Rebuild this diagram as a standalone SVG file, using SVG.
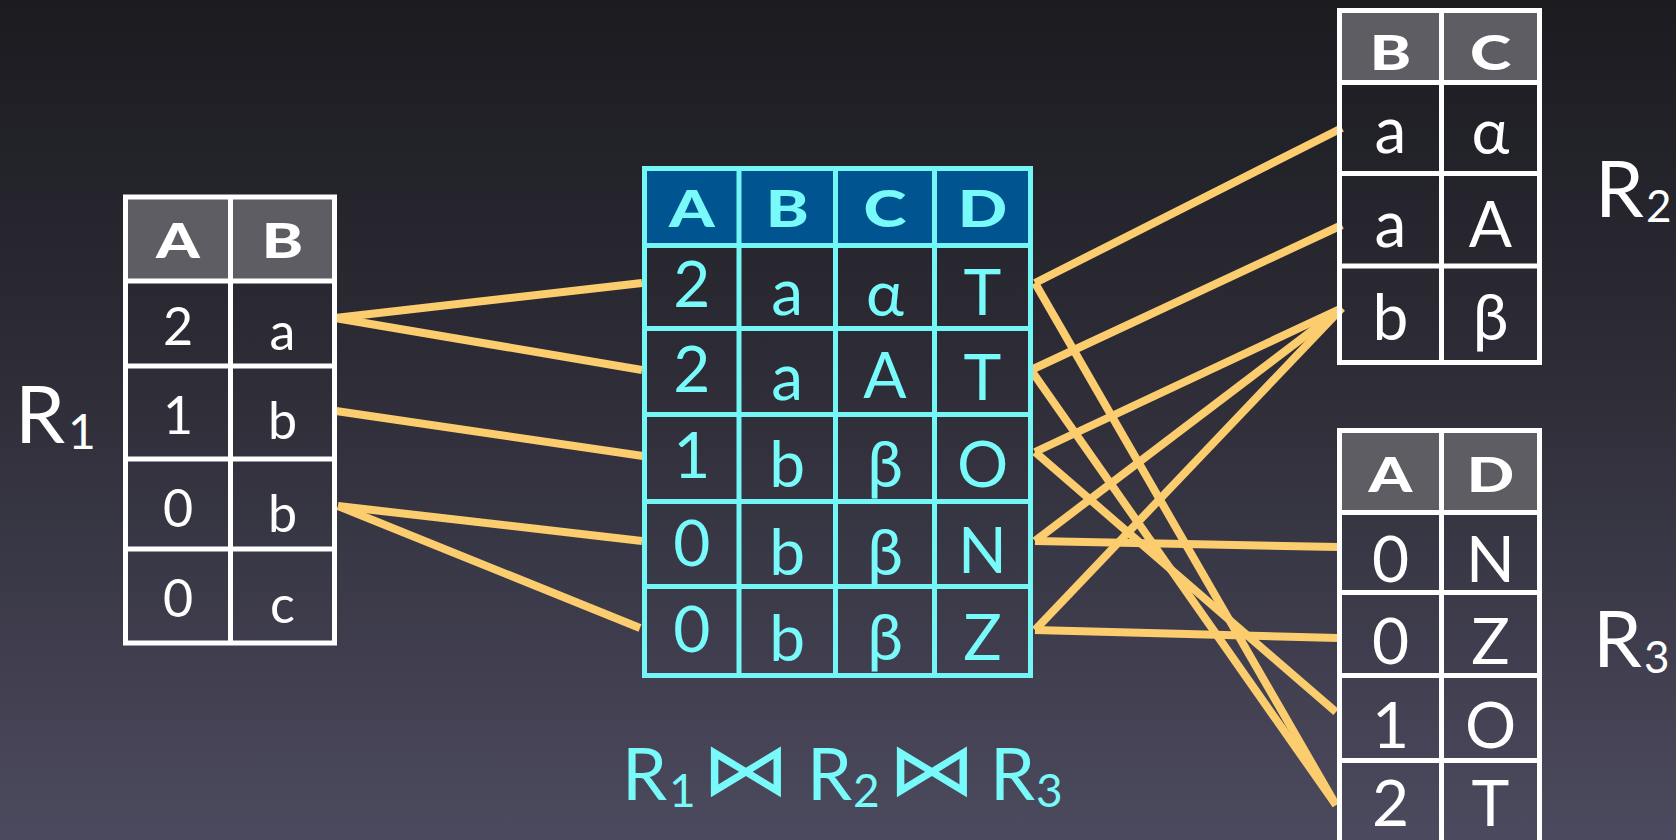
<svg xmlns="http://www.w3.org/2000/svg" width="1676" height="840" viewBox="0 0 1676 840">
<defs>
<linearGradient id="bg" x1="0" y1="0" x2="0" y2="1">
<stop offset="0" stop-color="#1b1b20"/>
<stop offset="0.5" stop-color="#302f3a"/>
<stop offset="1" stop-color="#4c4a5e"/>
</linearGradient>
<style>
.t{font-family:Lato,"Open Sans","Liberation Sans",sans-serif;text-anchor:middle}
.w{fill:#ffffff}
.c{fill:#78fafa}
.hd{font-weight:900}
.grid{fill:none;stroke:#ffffff;stroke-width:5}
.cgrid{fill:none;stroke:#74f6f6;stroke-width:5}
.hw{fill:#5e5d64}
.hb{fill:#00548f}
.lab{font-family:Lato,"Open Sans","Liberation Sans",sans-serif}
.link{stroke:#fccd6e;stroke-width:8;fill:none}
.bow{font-family:"DejaVu Sans",sans-serif;text-anchor:middle}
</style>
</defs>
<rect x="0" y="0" width="1676" height="840" fill="url(#bg)"/>

<g id="connectors">
<line class="link" x1="335" y1="318" x2="642" y2="283"/>
<line class="link" x1="335" y1="318" x2="642" y2="370"/>
<line class="link" x1="336" y1="411" x2="643" y2="456"/>
<line class="link" x1="338" y1="506" x2="642" y2="541"/>
<line class="link" x1="338" y1="506" x2="640" y2="628"/>
<line class="link" x1="1035" y1="283" x2="1342" y2="128"/>
<line class="link" x1="1035" y1="283" x2="1336" y2="805"/>
<line class="link" x1="1031" y1="370" x2="1342" y2="225"/>
<line class="link" x1="1031" y1="370" x2="1336" y2="805"/>
<line class="link" x1="1035" y1="452" x2="1342" y2="308"/>
<line class="link" x1="1035" y1="452" x2="1336" y2="712"/>
<line class="link" x1="1035" y1="541" x2="1342" y2="308"/>
<line class="link" x1="1035" y1="541" x2="1338" y2="547"/>
<line class="link" x1="1035" y1="630" x2="1342" y2="308"/>
<line class="link" x1="1035" y1="630" x2="1338" y2="638"/>
</g>

<g id="R1">
<rect class="hw" x="125.5" y="197" width="209" height="84"/>
<path class="grid" d="M125.5 197H334.5V643H125.5Z M230.5 197V643 M125.5 281H334.5 M125.5 366H334.5 M125.5 459H334.5 M125.5 549H334.5"/>
<text class="t w hd" font-size="48" transform="translate(178 258) scale(1.3 1)">A</text>
<text class="t w hd" font-size="48" transform="translate(282.5 258) scale(1.3 1)">B</text>
<g class="t w" font-size="52">
<text x="178" y="345">2</text><text x="282.5" y="350">a</text>
<text x="178" y="434">1</text><text x="282.5" y="439">b</text>
<text x="178" y="527">0</text><text x="282.5" y="532">b</text>
<text x="178" y="617">0</text><text x="282.5" y="623">c</text>
</g>
<text class="lab w" x="15" y="443" font-size="80">R</text>
<text class="lab w" x="68" y="449" font-size="48">1</text>
</g>

<g id="join">
<rect class="hb" x="644.5" y="168.5" width="386" height="77"/>
<path class="cgrid" d="M644.5 168.5H1030.5V675.5H644.5Z M739 168.5V675.5 M835.5 168.5V675.5 M934.5 168.5V675.5 M644.5 245.5H1030.5 M644.5 328.5H1030.5 M644.5 414.5H1030.5 M644.5 501.5H1030.5 M644.5 586.5H1030.5"/>
<g class="t c hd" font-size="52">
<text transform="translate(691.75 227) scale(1.25 1)">A</text>
<text transform="translate(787.25 227) scale(1.25 1)">B</text>
<text transform="translate(885 227) scale(1.25 1)">C</text>
<text transform="translate(982.5 227) scale(1.25 1)">D</text>
</g>
<g class="t c" font-size="64">
<text x="691.75" y="307">2</text><text x="787.25" y="315">a</text><text x="885" y="316">α</text><text x="982.5" y="315">T</text>
<text x="691.75" y="392">2</text><text x="787.25" y="400">a</text><text x="885" y="398">A</text><text x="982.5" y="400">T</text>
<text x="691.75" y="478">1</text><text x="787.25" y="487">b</text><text x="885" y="487">β</text><text x="982.5" y="487">O</text>
<text x="691.75" y="566">0</text><text x="787.25" y="575">b</text><text x="885" y="575">β</text><text x="982.5" y="573">N</text>
<text x="691.75" y="652">0</text><text x="787.25" y="661">b</text><text x="885" y="660">β</text><text x="982.5" y="660">Z</text>
</g>
<text class="lab c" font-size="72" x="622" y="800">R</text>
<text class="lab c" font-size="46" x="669" y="807">1</text>
<text class="bow c" font-size="74" transform="translate(746 795) scale(1.2 1)">⋈</text>
<text class="lab c" font-size="72" x="807" y="800">R</text>
<text class="lab c" font-size="46" x="853" y="807">2</text>
<text class="bow c" font-size="74" transform="translate(932 795) scale(1.2 1)">⋈</text>
<text class="lab c" font-size="72" x="990" y="800">R</text>
<text class="lab c" font-size="46" x="1036" y="807">3</text>
</g>

<g id="R2">
<rect class="hw" x="1339.5" y="10.5" width="200" height="72"/>
<path class="grid" d="M1339.5 10.5H1539.5V362.5H1339.5Z M1441.5 10.5V362.5 M1339.5 82.5H1539.5 M1339.5 173.5H1539.5 M1339.5 266H1539.5"/>
<text class="t w hd" font-size="48" transform="translate(1390.5 70) scale(1.3 1)">B</text>
<text class="t w hd" font-size="48" transform="translate(1490.5 70) scale(1.3 1)">C</text>
<g class="t w" font-size="64">
<text x="1390.5" y="153">a</text><text x="1490.5" y="154">α</text>
<text x="1390.5" y="247">a</text><text x="1490.5" y="247">A</text>
<text x="1390.5" y="340">b</text><text x="1490.5" y="340">β</text>
</g>
<text class="lab w" x="1595" y="217" font-size="78">R</text>
<text class="lab w" x="1646" y="222" font-size="44">2</text>
</g>

<g id="R3">
<rect class="hw" x="1339.5" y="430.5" width="200" height="82"/>
<path class="grid" d="M1339.5 430.5H1539.5V845H1339.5Z M1441.5 430.5V845 M1339.5 512.5H1539.5 M1339.5 592.5H1539.5 M1339.5 675.5H1539.5 M1339.5 760.5H1539.5"/>
<text class="t w hd" font-size="48" transform="translate(1390.5 492) scale(1.3 1)">A</text>
<text class="t w hd" font-size="48" transform="translate(1490.5 492) scale(1.3 1)">D</text>
<g class="t w" font-size="64">
<text x="1390.5" y="582">0</text><text x="1490.5" y="582">N</text>
<text x="1390.5" y="664">0</text><text x="1490.5" y="664">Z</text>
<text x="1390.5" y="748">1</text><text x="1490.5" y="748">O</text>
<text x="1390.5" y="826">2</text><text x="1490.5" y="826">T</text>
</g>
<text class="lab w" x="1593" y="667" font-size="78">R</text>
<text class="lab w" x="1644" y="673" font-size="44">3</text>
</g>
</svg>
